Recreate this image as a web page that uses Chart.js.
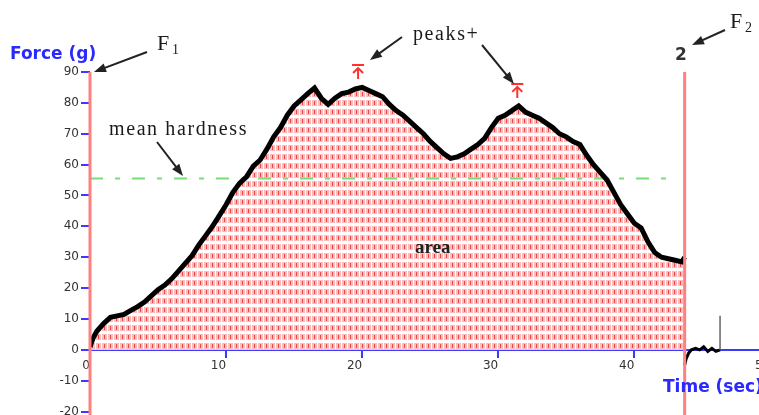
<!DOCTYPE html>
<html>
<head>
<meta charset="utf-8">
<script src="https://cdn.jsdelivr.net/npm/chart.js@4.4.1/dist/chart.umd.min.js"></script>
<style>
  html, body { margin: 0; padding: 0; background: #fff; overflow: hidden; width: 759px; height: 415px; }
  #wrap { position: absolute; left: 0; top: 0; width: 800px; height: 440px; }
</style>
</head>
<body>
<div id="wrap"><canvas id="chart" width="800" height="440"></canvas></div>
<script>
// force curve (seconds, grams)
const time = [0, 0.25, 0.5, 1, 1.5, 2, 2.5, 3, 3.5, 4, 4.5, 5, 5.5, 6, 6.5, 7, 7.5, 8, 8.5, 9, 9.5,
  10, 10.5, 11, 11.5, 12, 12.5, 13, 13.5, 14, 14.5, 15, 15.5, 16, 16.5, 17, 17.5, 18, 18.5, 19, 19.5,
  20, 20.5, 21, 21.5, 22, 22.5, 23, 23.5, 24, 24.5, 25, 25.5, 26, 26.5, 27, 27.5, 28, 28.5, 29, 29.5,
  30, 30.5, 31, 31.5, 32, 32.5, 33, 33.5, 34, 34.5, 35, 35.5, 36, 36.5, 37, 37.5, 38, 38.5, 39, 39.5,
  40, 40.5, 41, 41.5, 42, 42.5, 43, 43.5, 43.7];
const force = [1, 4, 6, 8.5, 10.5, 11, 11.5, 12.8, 14, 15.5, 17.5, 19.5, 21, 23, 25.5, 28, 30.5, 34, 37, 40, 43.5,
  47, 51, 54, 56, 59.5, 61.5, 65, 69, 72, 76, 79, 81, 83, 84.8, 81.5, 79.5, 81.5, 83, 83.5, 84.5,
  85, 84, 83, 82, 79.5, 77.5, 76, 74, 72, 70, 67.5, 65.5, 63.5, 62, 62.5, 63.5, 65, 66.5, 68.5, 72,
  75, 76, 77.5, 79, 77, 76, 75, 73.5, 72, 70, 69, 67.5, 66.5, 63, 60, 57.5, 55, 51, 47, 44,
  41, 39.5, 35, 31.5, 30, 29.5, 29, 28.5, 30];

// after the probe lifts off at F2
const tailTime = [43.7, 43.7, 43.8, 44.0, 44.2, 44.5, 44.8, 45.1, 45.4, 45.7, 46.0, 46.3, 46.3];
const tailForce = [29, -5, -3, -1, 0, 0.5, 0, 1, -0.5, 0.5, -0.5, 0, 11];

const meanHardness = 55.5;
const meanSpan = [0, 42.8];
const peakTime = [19.7, 31.4];
const peakForce = [84.8, 78.7];
const markerTime = [0, 43.7]; // F1, F2

const xTicks = [0, 10, 20, 30, 40, 50];
const yTicks = [-20, -10, 0, 10, 20, 30, 40, 50, 60, 70, 80, 90];

const curve = time.map((t, i) => ({ x: t, y: force[i] }));
const tail = tailTime.map((t, i) => ({ x: t, y: tailForce[i] }));
const meanLine = meanSpan.map(t => ({ x: t, y: meanHardness }));

function hatch() {
  const c = document.createElement('canvas');
  c.width = 6; c.height = 9;
  const g = c.getContext('2d');
  g.fillStyle = '#fff'; g.fillRect(0, 0, 6, 9);
  g.fillStyle = '#fcbcbc'; g.fillRect(0, 1, 5, 6);
  g.fillStyle = '#ec4646'; g.fillRect(2, 2, 1, 4);
  return g.createPattern(c, 'repeat');
}

function arrow(ctx, x1, y1, x2, y2) {
  const a = Math.atan2(y2 - y1, x2 - x1), c = Math.cos(a), s = Math.sin(a);
  ctx.beginPath();
  ctx.moveTo(x1, y1);
  ctx.lineTo(x2 - 8 * c, y2 - 8 * s);
  ctx.stroke();
  ctx.beginPath();
  ctx.moveTo(x2, y2);
  ctx.lineTo(x2 - 12 * c + 4.5 * s, y2 - 12 * s - 4.5 * c);
  ctx.lineTo(x2 - 12 * c - 4.5 * s, y2 - 12 * s + 4.5 * c);
  ctx.closePath();
  ctx.fill();
}

const markers = {
  id: 'markers',
  afterDatasetsDraw(chart) {
    const { ctx, chartArea, scales: { x, y } } = chart;
    ctx.save();
    // F1 / F2 lines
    ctx.strokeStyle = '#ff8080';
    ctx.lineWidth = 3;
    markerTime.forEach(t => {
      const px = x.getPixelForValue(t);
      ctx.beginPath();
      ctx.moveTo(px, chartArea.top);
      ctx.lineTo(px, chartArea.bottom);
      ctx.stroke();
    });
    // peak flags
    ctx.strokeStyle = '#ff3030';
    ctx.lineWidth = 2;
    peakTime.forEach((t, i) => {
      const px = x.getPixelForValue(t);
      const py = y.getPixelForValue(peakForce[i]) - 9;
      ctx.beginPath();
      ctx.moveTo(px - 6, py - 14); ctx.lineTo(px + 6, py - 14);
      ctx.moveTo(px, py - 11); ctx.lineTo(px, py);
      ctx.moveTo(px - 5, py - 6); ctx.lineTo(px, py - 11); ctx.lineTo(px + 5, py - 6);
      ctx.stroke();
    });
    ctx.restore();
  },
  afterDraw(chart) {
    const ctx = chart.ctx;
    ctx.save();
    ctx.fillStyle = '#2a2aff';
    ctx.font = 'bold 17px "DejaVu Sans"';
    ctx.textBaseline = 'alphabetic';
    ctx.fillText('Force (g)', 10, 59);
    ctx.fillText('Time (sec)', 663, 392);

    ctx.fillStyle = '#1a1a1a';
    ctx.font = '22px "Liberation Serif"';
    ctx.fillText('F', 157, 50);
    ctx.fillText('F', 730, 28);
    ctx.font = '14px "Liberation Serif"';
    ctx.fillText('1', 172, 54);
    ctx.fillText('2', 745, 32);
    ctx.font = '20px "Liberation Serif"';
    ctx.letterSpacing = '1.6px';
    ctx.fillText('mean hardness', 109, 135);
    ctx.fillText('peaks+', 413, 40);
    ctx.letterSpacing = '0px';
    ctx.fillStyle = '#222';
    ctx.font = 'bold 19px "Liberation Serif"';
    ctx.fillText('area', 415, 253);
    ctx.fillStyle = '#333';
    ctx.font = 'bold 17px "DejaVu Sans"';
    ctx.textAlign = 'center';
    ctx.fillText('2', 681, 60);

    ctx.strokeStyle = '#222';
    ctx.fillStyle = '#222';
    ctx.lineWidth = 2;
    arrow(ctx, 147, 52, 94, 72);
    arrow(ctx, 157, 142, 183, 176);
    arrow(ctx, 402, 37, 370, 60);
    arrow(ctx, 482, 45, 514, 84);
    arrow(ctx, 725, 30, 692, 45);
    ctx.restore();
  }
};

const tickFont = { family: 'DejaVu Sans', size: 12 };
const last = tail.length - 2;

new Chart(document.getElementById('chart'), {
  type: 'line',
  data: {
    datasets: [
      { data: curve, fill: 'origin', backgroundColor: hatch(), borderWidth: 0, pointRadius: 0, order: 3 },
      { data: meanLine, borderColor: '#77dd77', borderWidth: 2, borderDash: [13, 12, 5, 12], pointRadius: 0, fill: false, order: 2 },
      { data: curve, borderColor: '#000', borderWidth: 5, pointRadius: 0, fill: false, order: 1 },
      {
        data: tail, borderColor: '#000', borderWidth: 3, pointRadius: 0, fill: false, order: 1,
        segment: {
          borderWidth: c => (c.p0DataIndex === 0 || c.p0DataIndex === last) ? 1.5 : 3,
          borderColor: c => (c.p0DataIndex === 0 || c.p0DataIndex === last) ? '#666' : '#000'
        }
      }
    ]
  },
  options: {
    responsive: false,
    animation: false,
    devicePixelRatio: 1,
    layout: { padding: { top: 72, right: 16, bottom: 13, left: 0 } },
    plugins: { legend: { display: false }, tooltip: { enabled: false } },
    scales: {
      x: {
        type: 'linear', min: 0, max: 51,
        position: { y: 0 },
        afterBuildTicks: s => { s.ticks = xTicks.map(v => ({ value: v })); },
        grid: { drawOnChartArea: false, tickLength: 7, color: '#3a3aff', lineWidth: 2 },
        border: { color: '#3a3aff', width: 2 },
        ticks: { align: 'end', padding: 2, color: '#333', font: tickFont }
      },
      y: {
        min: -25, max: 90,
        afterFit: s => { s.width = 90; },
        afterBuildTicks: s => { s.ticks = yTicks.map(v => ({ value: v })); },
        grid: { drawOnChartArea: false, tickLength: 9, color: '#3a3aff', lineWidth: 2 },
        border: { display: false },
        ticks: { padding: 2, color: '#333', font: tickFont }
      }
    }
  },
  plugins: [markers]
});
</script>
</body>
</html>
